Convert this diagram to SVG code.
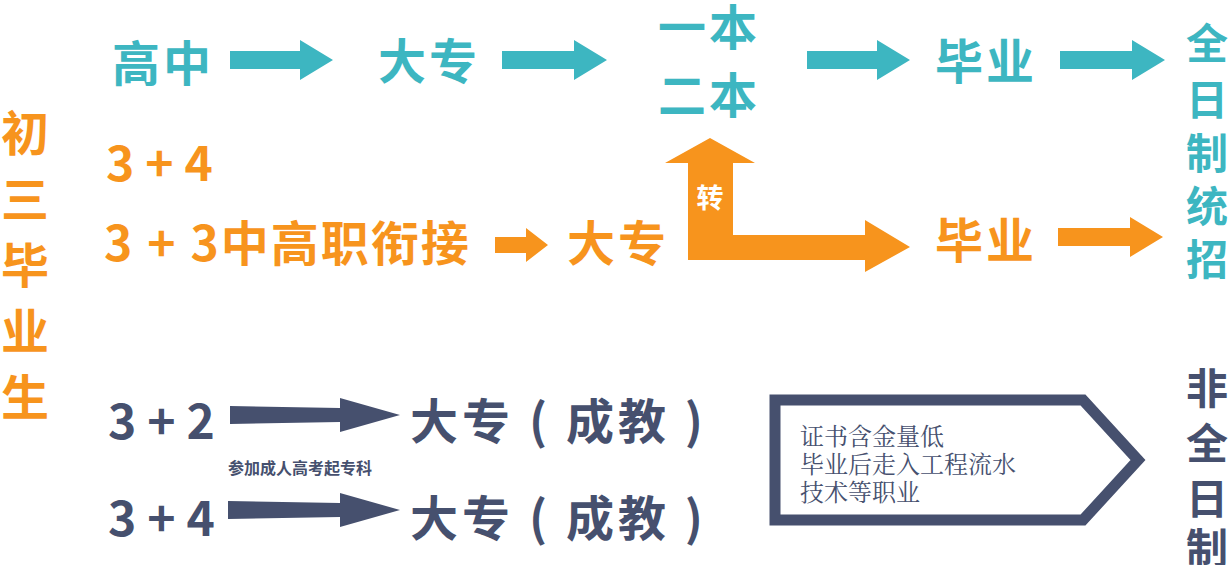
<svg xmlns="http://www.w3.org/2000/svg" width="1228" height="565" viewBox="0 0 1228 565">
<style>
text{font-family:"Noto Sans CJK SC","Noto Sans",sans-serif;font-weight:700;dominant-baseline:central}
.t{fill:#3db6c1}.o{fill:#f7941d}.n{fill:#46506e}
.b{font-size:48px}.v{font-size:42px;text-anchor:middle}
.s{font-family:"Noto Serif CJK SC","Liberation Serif",serif;font-weight:400;font-size:24px;fill:#46506e}
</style>
<rect width="1228" height="565" fill="#fff"/>
<g id="left" class="o"><text class="b" x="25" y="130" text-anchor="middle">初</text><text class="b" x="25" y="196" text-anchor="middle">三</text><text class="b" x="25" y="262" text-anchor="middle">毕</text><text class="b" x="25" y="328" text-anchor="middle">业</text><text class="b" x="25" y="394" text-anchor="middle">生</text></g>
<g id="row1" class="t"><text class="b" x="112" y="60" letter-spacing="3">高中</text><text class="b" x="378" y="58" letter-spacing="3">大专</text><text class="b" x="658" y="24" letter-spacing="3">一本</text><text class="b" x="658" y="92" letter-spacing="3">二本</text><text class="b" x="935" y="58" letter-spacing="3">毕业</text></g>
<g id="right1" class="t"><text class="v" x="1207" y="40">全</text><text class="v" x="1207" y="96">日</text><text class="v" x="1207" y="150">制</text><text class="v" x="1207" y="203">统</text><text class="v" x="1207" y="256">招</text></g>
<g id="row2" class="o"><text class="b" x="106" y="160">3 + 4</text><text class="b" x="104" y="240" letter-spacing="2">3 + 3中高职衔接</text><text class="b" x="567" y="240" letter-spacing="3">大专</text><text class="b" x="935" y="237" letter-spacing="3">毕业</text></g>
<g id="row3" class="n"><text class="b" x="108" y="418">3 + 2</text><text class="b" x="410" y="418" letter-spacing="4">大专 ( 成教 )</text><text class="b" x="108" y="515">3 + 4</text><text class="b" x="410" y="515" letter-spacing="4">大专 ( 成教 )</text><text x="228" y="467" font-size="16">参加成人高考起专科</text></g>
<g id="right2" class="n"><text class="v" x="1207" y="385">非</text><text class="v" x="1207" y="440">全</text><text class="v" x="1207" y="495">日</text><text class="v" x="1207" y="545">制</text></g>
<g id="box"><path d="M775 400H1083L1138 460L1083 520H775Z" fill="none" stroke="#46506e" stroke-width="11"/><text class="s" x="800" y="434">证书含金量低</text><text class="s" x="800" y="462">毕业后走入工程流水</text><text class="s" x="800" y="490">技术等职业</text></g>
<g id="connectors">
<g class="t"><path d="M230 51H300V40L333 60L300 80V69H230Z"/><path d="M502 51H574V40L607 60L574 80V69H502Z"/><path d="M807 51H877V40L910 60L877 80V69H807Z"/><path d="M1060 51H1132V40L1165 60L1132 80V69H1060Z"/></g>
<g class="o"><path d="M495 237H526V228L548 245L526 262V253H495Z"/><path d="M1058 228H1130V217L1163 237L1130 257V246H1058Z"/>
<path d="M688 260V163H665L710 138L755 163H733V235H865V220L910 247L865 272V260Z"/></g>
<text x="710" y="196" font-size="27" fill="#fff" text-anchor="middle">转</text>
<g class="n"><path d="M230 406L340 408V398L400 415L340 432V422L230 424Z"/><path d="M228 501L340 503V493L400 510L340 527V517L228 519Z"/></g>
</g>
</svg>
